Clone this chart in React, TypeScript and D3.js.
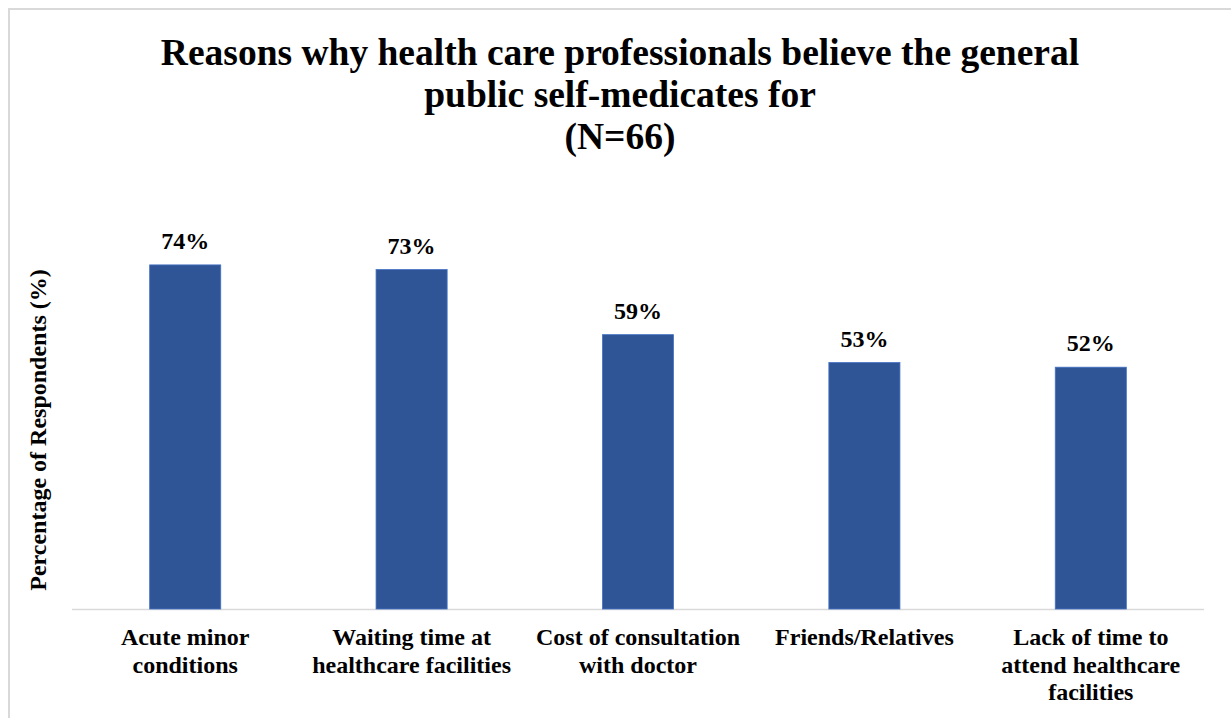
import React from "react";
import * as d3 from "d3";

const categories: string[][] = [
  ["Acute minor", "conditions"],
  ["Waiting time at", "healthcare facilities"],
  ["Cost of consultation", "with doctor"],
  ["Friends/Relatives"],
  ["Lack of time to", "attend healthcare", "facilities"],
];
const values: number[] = [74, 73, 59, 53, 52];
const titleLines: string[] = [
  "Reasons why health care professionals believe the general",
  "public self-medicates for",
  "(N=66)",
];
const yAxisTitle = "Percentage of Respondents (%)";

const W = 1231;
const H = 718;
const FONT = "Liberation Serif";

export default function App() {
  const ids = categories.map((_, i) => String(i));
  const x = d3.scaleBand<string>().domain(ids).range([72, 1204]).paddingInner(0.686).paddingOuter(0.343);
  const y = d3.scaleLinear().domain([0, 100]).range([609, 144]);
  return (
    <div style={{ position: "fixed", left: 0, top: 0 }}>
      <svg width={W} height={H} style={{ display: "block", background: "#fff" }}>
        <rect x={9} y={9} width={W + 10} height={H + 10} fill="#fff" stroke="#d9d9d9" strokeWidth={2} />
        {titleLines.map((t, i) => (
          <text key={i} x={620} y={65 + i * 42} fontSize={37.5} fontFamily={FONT} fontWeight="bold" textAnchor="middle" fill="#000">{t}</text>
        ))}
        <line x1={72} x2={1204} y1={y(0) + 0.5} y2={y(0) + 0.5} stroke="#d9d9d9" strokeWidth={1.5} />
        {values.map((v, i) => (
          <g key={i}>
            <rect x={x(ids[i])!} y={y(v)} width={x.bandwidth()} height={y(0) - y(v)} fill="#2F5597" stroke="#4472C4" strokeWidth={0.8} />
            <text x={x(ids[i])! + x.bandwidth() / 2} y={y(v) - 16} textAnchor="middle" fontFamily={FONT} fontWeight="bold" fontSize={24}>{v}%</text>
            {categories[i].map((l, j) => (
              <text key={j} x={x(ids[i])! + x.bandwidth() / 2} y={645 + j * 27.5} textAnchor="middle" fontFamily={FONT} fontWeight="bold" fontSize={24}>{l}</text>
            ))}
          </g>
        ))}
        <text transform={`translate(46, 430) rotate(-90)`} textAnchor="middle" fontFamily={FONT} fontWeight="bold" fontSize={24}>{yAxisTitle}</text>
      </svg>
    </div>
  );
}
